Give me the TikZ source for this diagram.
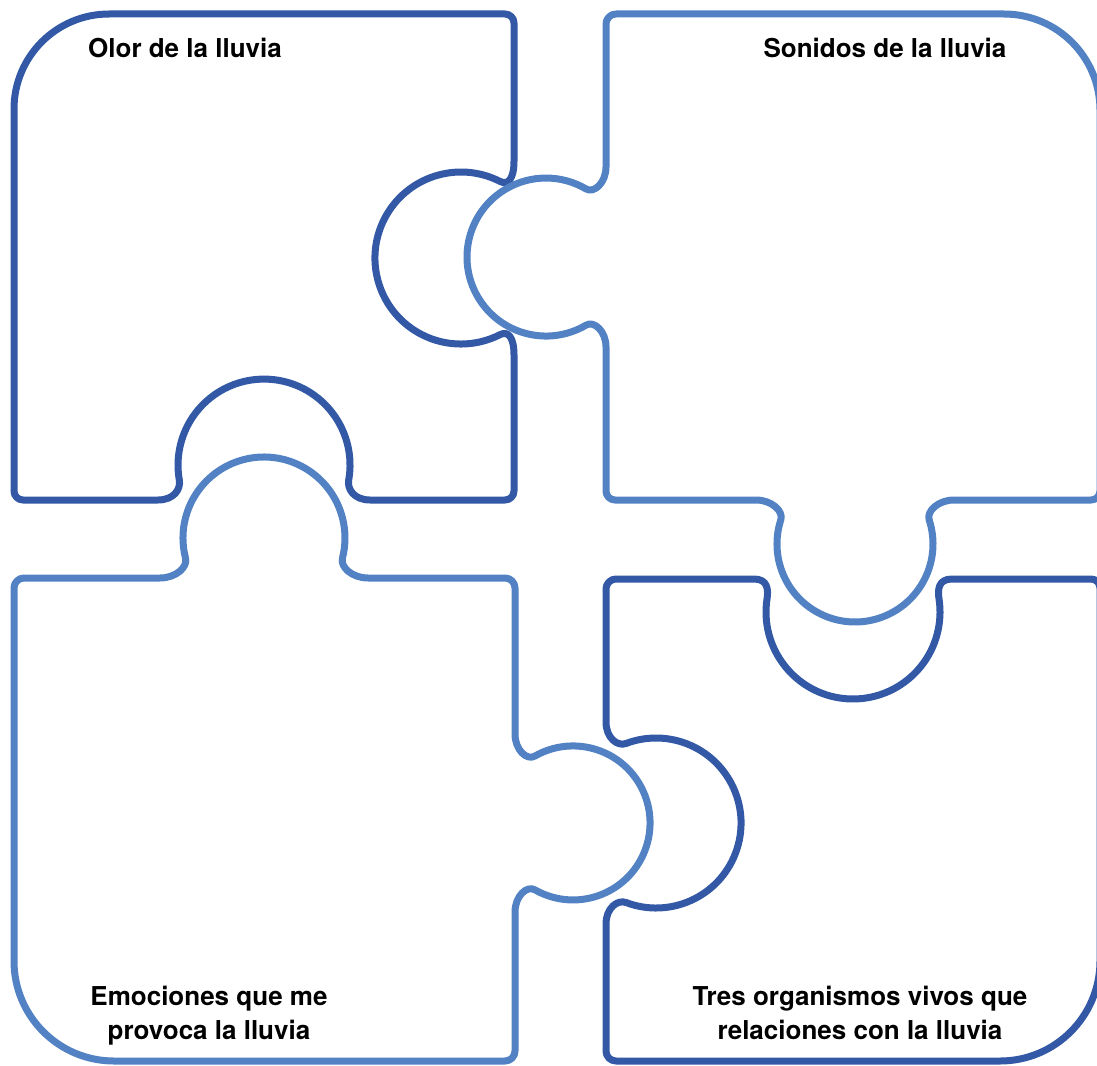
\documentclass[tikz,border=0pt]{standalone}
\usepackage{fontspec}
\setmainfont{TeX Gyre Heros}
\definecolor{darkpiece}{HTML}{3258A6}
\definecolor{lightpiece}{HTML}{5282C4}
\begin{document}
\begin{tikzpicture}[x=1pt,y=1pt,
  piece/.style={line width=7pt, line join=round, line cap=round},
  dpiece/.style={piece, draw=darkpiece},
  lpiece/.style={piece, draw=lightpiece},
  lbl/.style={font=\fontsize{26}{34}\selectfont\bfseries, text=black, inner sep=0pt}]
\useasboundingbox (0,-1065) rectangle (1097,0);
\fill[white] (0,-1065) rectangle (1097,0);
\clip (0,-1065) rectangle (1097,0);

% Piece A (top-left, dark)
\draw[dpiece] (109,-14) -- (505,-14) arc[start angle=90,end angle=0,radius=9]
 -- (514,-161) .. controls (514,-179) and (508,-185.5) .. (500,-181.4)
 arc[start angle=63,end angle=297,radius=86]
 .. controls (508,-330.5) and (514,-337) .. (514,-355)
 -- (514,-491) arc[start angle=0,end angle=-90,radius=9]
 -- (370,-500) .. controls (354,-500) and (347,-489) .. (348.7,-480)
 arc[start angle=-10,end angle=190,radius=86]
 .. controls (181,-489) and (174,-500) .. (158,-500)
 -- (23,-500) arc[start angle=270,end angle=180,radius=9]
 -- (14,-109) arc[start angle=180,end angle=90,radius=95] -- cycle;

% Piece B (top-right, light)
\draw[lpiece] (616,-14) -- (1004,-14) arc[start angle=90,end angle=0,radius=96]
 -- (1100,-491) arc[start angle=0,end angle=-90,radius=9]
 -- (954,-500) .. controls (938,-500) and (926.2,-511.5) .. (929.2,-520)
 arc[start angle=17.9,end angle=-197.9,radius=78]
 .. controls (783.8,-511.5) and (772,-500) .. (756,-500)
 -- (615,-500) arc[start angle=270,end angle=180,radius=9]
 -- (606,-347) .. controls (606,-331) and (593.8,-320.4) .. (586.1,-325.1)
 arc[start angle=-59.5,end angle=-300.5,radius=79]
 .. controls (593.8,-193.6) and (606,-183) .. (606,-167)
 -- (606,-24) arc[start angle=180,end angle=90,radius=10] -- cycle;

% Piece C (bottom-left, light)
\draw[lpiece] (24,-578) -- (160,-578) .. controls (176,-578) and (188,-567) .. (185.5,-558)
 arc[start angle=194.3,end angle=-14.3,radius=81]
 .. controls (340,-567) and (352,-578) .. (368,-578)
 -- (505,-578) arc[start angle=90,end angle=0,radius=10]
 -- (515,-734) .. controls (515,-750) and (527,-761) .. (535,-756)
 arc[start angle=119.6,end angle=-119.6,radius=77]
 .. controls (527,-885) and (515,-896) .. (515,-912)
 -- (515,-1051) arc[start angle=0,end angle=-90,radius=10]
 -- (114,-1061) arc[start angle=270,end angle=180,radius=100]
 -- (14,-588) arc[start angle=180,end angle=90,radius=10] -- cycle;

% Piece D (bottom-right, dark)
\draw[dpiece] (616,-579) -- (754,-579) .. controls (768,-579) and (768.4,-590) .. (767,-599)
 arc[start angle=171.4,end angle=368.6,radius=87]
 .. controls (937.6,-590) and (938,-579) .. (952,-579)
 -- (1091,-579) arc[start angle=90,end angle=0,radius=9]
 -- (1100,-961) arc[start angle=0,end angle=-90,radius=100]
 -- (616,-1061) arc[start angle=270,end angle=180,radius=10]
 -- (606,-924) .. controls (606,-908) and (617.5,-899.3) .. (626,-902.5)
 arc[start angle=-110.7,end angle=110.7,radius=85]
 .. controls (617.5,-746.7) and (606,-738) .. (606,-722)
 -- (606,-589) arc[start angle=180,end angle=90,radius=10] -- cycle;

% Labels
\node[lbl, anchor=base] (olor) at (185,-57) {Olor de la lluvia};
\node[lbl, anchor=base] (sonidos) at (885,-57) {Sonidos de la lluvia};
\node[lbl, align=center, anchor=base] (emociones) at (209,-1039) {Emociones que me\\provoca la lluvia};
\node[lbl, align=center, anchor=base] (tres) at (860,-1039) {Tres organismos vivos que\\relaciones con la lluvia};
\end{tikzpicture}
\end{document}
